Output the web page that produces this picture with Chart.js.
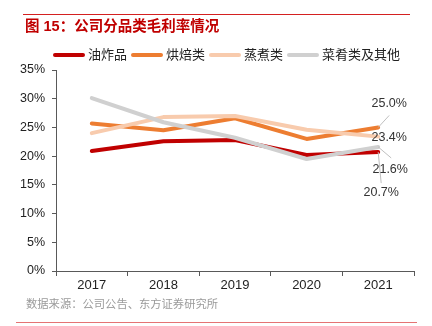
<!DOCTYPE html>
<html>
<head>
<meta charset="utf-8">
<script src="https://cdn.jsdelivr.net/npm/chart.js@4/dist/chart.umd.min.js"></script>
<style>
  html, body { margin: 0; padding: 0; background: #fff; }
</style>
</head>
<body>
<canvas id="margin" width="432" height="326"></canvas>
<script>
// 公司分品类毛利率 (%)
var years = ['2017', '2018', '2019', '2020', '2021'];
var seriesNames = ['油炸品', '烘焙类', '蒸煮类', '菜肴类及其他'];
var fried = [20.9, 22.6, 22.8, 20.2, 20.7];
var baked = [25.7, 24.5, 26.6, 23.0, 25.0];
var steamed = [24.0, 26.8, 27.0, 24.6, 23.4];
var dishes = [30.1, 25.9, 23.2, 19.5, 21.6];
var yMin = 0, yMax = 35, yStep = 5;

var colors = ['#C00000', '#ED7D31', '#F8CBAD', '#D0D0D0'];
var FONT = '"Liberation Sans", Arial, "Noto Sans CJK SC", sans-serif';

// where the 2021 value labels sit relative to their point, and leader line end
var endLabels = [
  { dx: 3, dy: 40, lx: 3, ly: 31 },
  { dx: 11, dy: -24, lx: 11, ly: -12 },
  { dx: 11, dy: 1, lx: null, ly: null },
  { dx: 12, dy: 23, lx: 13, ly: 11 }
];

var allSeries = [fried, baked, steamed, dishes];
var datasets = allSeries.map(function (vals, i) {
  return {
    label: seriesNames[i],
    data: vals,
    borderColor: colors[i],
    backgroundColor: colors[i],
    borderWidth: 4,
    borderCapStyle: 'round',
    borderJoinStyle: 'round',
    pointRadius: 0,
    tension: 0,
    order: 4 - i
  };
});

var decorations = {
  id: 'decorations',
  afterDraw: function (chart) {
    var ctx = chart.ctx;
    ctx.save();

    // red rules top and bottom
    ctx.strokeStyle = '#D42020';
    ctx.lineWidth = 1;
    ctx.beginPath(); ctx.moveTo(23, 14.5); ctx.lineTo(410, 14.5); ctx.stroke();
    ctx.strokeStyle = '#E57373';
    ctx.beginPath(); ctx.moveTo(16, 322.5); ctx.lineTo(417, 322.5); ctx.stroke();

    // title
    ctx.fillStyle = '#C00000';
    ctx.font = 'bold 14.5px ' + FONT;
    ctx.textBaseline = 'middle';
    ctx.textAlign = 'left';
    ctx.fillText('图 15：公司分品类毛利率情况', 25, 27);

    // source
    ctx.fillStyle = '#9A9A9A';
    ctx.font = '11.3px ' + FONT;
    ctx.fillText('数据来源：公司公告、东方证券研究所', 26, 305);

    // legend
    ctx.font = '13px ' + FONT;
    var x = 53, y = 55;
    chart.data.datasets.forEach(function (ds) {
      ctx.strokeStyle = ds.borderColor;
      ctx.lineWidth = 4;
      ctx.lineCap = 'round';
      ctx.beginPath(); ctx.moveTo(x + 2, y); ctx.lineTo(x + 30, y); ctx.stroke();
      ctx.fillStyle = '#222';
      ctx.fillText(ds.label, x + 35, y);
      x += 35 + ctx.measureText(ds.label).width + 4;
    });

    // 2021 value labels
    ctx.font = '12.5px ' + FONT;
    ctx.textAlign = 'center';
    chart.data.datasets.forEach(function (ds, i) {
      var meta = chart.getDatasetMeta(i);
      var last = ds.data.length - 1;
      var pt = meta.data[last];
      var cfg = endLabels[i];
      if (cfg.lx !== null) {
        ctx.strokeStyle = '#BFBFBF';
        ctx.lineWidth = 1;
        ctx.lineCap = 'butt';
        ctx.beginPath(); ctx.moveTo(pt.x, pt.y); ctx.lineTo(pt.x + cfg.lx, pt.y + cfg.ly); ctx.stroke();
      }
      ctx.fillStyle = '#333';
      ctx.fillText(ds.data[last].toFixed(1) + '%', pt.x + cfg.dx, pt.y + cfg.dy);
    });

    ctx.restore();
  }
};

new Chart(document.getElementById('margin'), {
  type: 'line',
  data: { labels: years, datasets: datasets },
  options: {
    responsive: false,
    animation: false,
    devicePixelRatio: 1,
    layout: { padding: { top: 70, right: 18, bottom: 25, left: 0 } },
    plugins: {
      legend: { display: false },
      title: { display: false },
      tooltip: { enabled: false }
    },
    scales: {
      x: {
        offset: true,
        grid: { offset: true, drawOnChartArea: false, tickLength: 5, color: '#595959' },
        border: { color: '#595959', width: 1 },
        ticks: { color: '#222', font: { family: FONT, size: 13 }, padding: 2 },
        afterFit: function (s) { s.height = 30; }
      },
      y: {
        min: yMin,
        max: yMax,
        grid: { drawOnChartArea: false, tickLength: 4, color: '#595959' },
        border: { color: '#595959', width: 1 },
        ticks: {
          stepSize: yStep,
          color: '#222',
          font: { family: FONT, size: 12.5 },
          padding: 7,
          callback: function (v) { return v + '%'; }
        },
        afterFit: function (s) { s.width = 56; }
      }
    }
  },
  plugins: [decorations]
});
</script>
</body>
</html>
